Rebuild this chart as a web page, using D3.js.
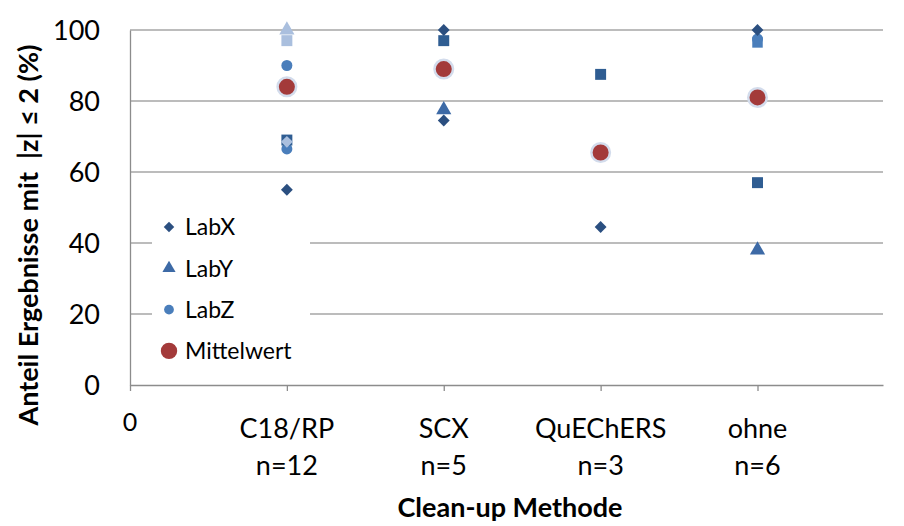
<!DOCTYPE html>
<html>
<head>
<meta charset="utf-8">
<script src="https://cdn.jsdelivr.net/npm/d3@7"></script>
<style>
  body { margin: 0; background: #fff; }
  text { font-family: Lato, "Open Sans", sans-serif; fill: #000; }
</style>
</head>
<body>
<div id="chart"></div>
<script>
// categories on the x axis (position 1..4)
var categories = [["C18/RP", "n=12"], ["SCX", "n=5"], ["QuEChERS", "n=3"], ["ohne", "n=6"]];
var yTicks = [0, 20, 40, 60, 80, 100];

// [category position, value]
var labX = [[1, 55], [2, 100], [2, 74.5], [3, 44.5], [4, 100]];
var labY = [[2, 77.5], [4, 38]];
var labZ = [[1, 90], [1, 66.5], [3, 64.5], [4, 97.5]];
var labSquare = [[1, 69], [2, 97], [3, 87.5], [4, 57]];
var labZSquare = [[4, 96.5]];
var lightTri = [[1, 100]];
var lightSquare = [[1, 97]];
var lightDiamond = [[1, 68.5]];
var mittelwert = [[1, 84], [2, 89], [3, 65.5], [4, 81]];

var width = 904, height = 526;

var svg = d3.select("#chart").append("svg")
    .attr("width", width)
    .attr("height", height);

var x = d3.scaleLinear().domain([0, 4.8]).range([130, 883]);
var y = d3.scaleLinear().domain([0, 100]).range([385, 30]);

// gridlines
svg.append("g")
  .selectAll("line")
  .data(yTicks.filter(function(d) { return d > 0; }))
  .enter().append("line")
  .attr("x1", x(0)).attr("x2", x(4.8))
  .attr("y1", function(d) { return y(d); })
  .attr("y2", function(d) { return y(d); })
  .style("stroke", "#a6a6a6")
  .style("stroke-width", "1.3px");

// y axis
var yAxis = svg.append("g")
  .attr("transform", "translate(" + x(0) + ",0)")
  .call(d3.axisLeft(y).tickValues(yTicks).tickSize(0).tickPadding(30));
yAxis.select(".domain").style("stroke", "#8c8c8c").style("stroke-width", "1.3px");
yAxis.selectAll("text").style("font-size", "27px").attr("dy", "0.36em");

// x axis
var xAxis = svg.append("g")
  .attr("transform", "translate(0," + y(0) + ")")
  .call(d3.axisBottom(x).tickValues([0, 1, 2, 3, 4]).tickSize(6).tickSizeOuter(0).tickFormat(""));
xAxis.select(".domain").style("stroke", "#8c8c8c").style("stroke-width", "1.3px");
xAxis.selectAll(".tick line").style("stroke", "#8c8c8c").style("stroke-width", "1.3px");

svg.append("text")
  .attr("x", x(0)).attr("y", 431)
  .attr("text-anchor", "middle")
  .style("font-size", "25px")
  .text("0");

var catLabels = svg.append("g").selectAll("text")
  .data(categories)
  .enter().append("text")
  .attr("text-anchor", "middle")
  .style("font-size", "27px");
catLabels.append("tspan")
  .attr("x", function(d, i) { return x(i + 1); })
  .attr("y", 438)
  .text(function(d) { return d[0]; });
catLabels.append("tspan")
  .attr("x", function(d, i) { return x(i + 1); })
  .attr("y", 475)
  .text(function(d) { return d[1]; });

// axis titles
svg.append("text")
  .attr("transform", "translate(38,235) rotate(-90)")
  .attr("text-anchor", "middle")
  .style("font-size", "27px")
  .style("font-weight", "bold")
  .style("white-space", "pre")
  .text("Anteil Ergebnisse mit  |z| \u2264 2 (%)");

svg.append("text")
  .attr("x", 510).attr("y", 517)
  .attr("text-anchor", "middle")
  .style("font-size", "27px")
  .style("font-weight", "bold")
  .text("Clean-up Methode");

// legend box hides gridlines behind it
svg.append("rect")
  .attr("x", 152).attr("y", 205)
  .attr("width", 158).attr("height", 165)
  .attr("fill", "#fff");

// diamonds drawn as squares turned by 45 degrees, like Excel markers
function drawPoints(data, shape, size, fill, halo, rot) {
  var g = svg.append("g");
  g.selectAll("path")
    .data(data)
    .enter().append("path")
    .attr("transform", function(d) {
      return "translate(" + x(d[0]) + "," + y(d[1]) + ")" + (rot ? " rotate(45)" : "");
    })
    .attr("d", d3.symbol().type(shape).size(size))
    .attr("fill", fill)
    .style("stroke", halo || "none")
    .style("stroke-width", halo ? "2.5px" : null);
}

drawPoints(labZSquare, d3.symbolSquare, 110, "#4a7ebb");
drawPoints(labZ, d3.symbolCircle, 95, "#4a7ebb");
drawPoints(labSquare, d3.symbolSquare, 120, "#2f5d92");
drawPoints(lightSquare, d3.symbolSquare, 120, "#aabfde");
drawPoints(lightDiamond, d3.symbolSquare, 70, "#aabfde", null, true);
drawPoints(lightTri, d3.symbolTriangle, 100, "#aabfde");
drawPoints(labY, d3.symbolTriangle, 100, "#3d6aa6");
drawPoints(labX, d3.symbolSquare, 70, "#2b4f80", null, true);
drawPoints(mittelwert, d3.symbolCircle, 270, "#a33a3a", "#d3dcec");

// legend
var legendItems = [
  { name: "LabX", shape: d3.symbolSquare, size: 55, fill: "#2b4f80", rot: true },
  { name: "LabY", shape: d3.symbolTriangle, size: 75, fill: "#3d6aa6" },
  { name: "LabZ", shape: d3.symbolCircle, size: 75, fill: "#4a7ebb" },
  { name: "Mittelwert", shape: d3.symbolCircle, size: 210, fill: "#a33a3a" }
];
var lg = svg.append("g").selectAll("g")
  .data(legendItems)
  .enter().append("g")
  .attr("transform", function(d, i) { return "translate(169," + (227 + i * 41.3) + ")"; });
lg.append("path")
  .attr("d", function(d) { return d3.symbol().type(d.shape).size(d.size)(); })
  .attr("transform", function(d) { return d.rot ? "rotate(45)" : null; })
  .attr("fill", function(d) { return d.fill; });
lg.append("text")
  .attr("x", 16).attr("dy", "0.36em")
  .style("font-size", "23px")
  .text(function(d) { return d.name; });
</script>
</body>
</html>
